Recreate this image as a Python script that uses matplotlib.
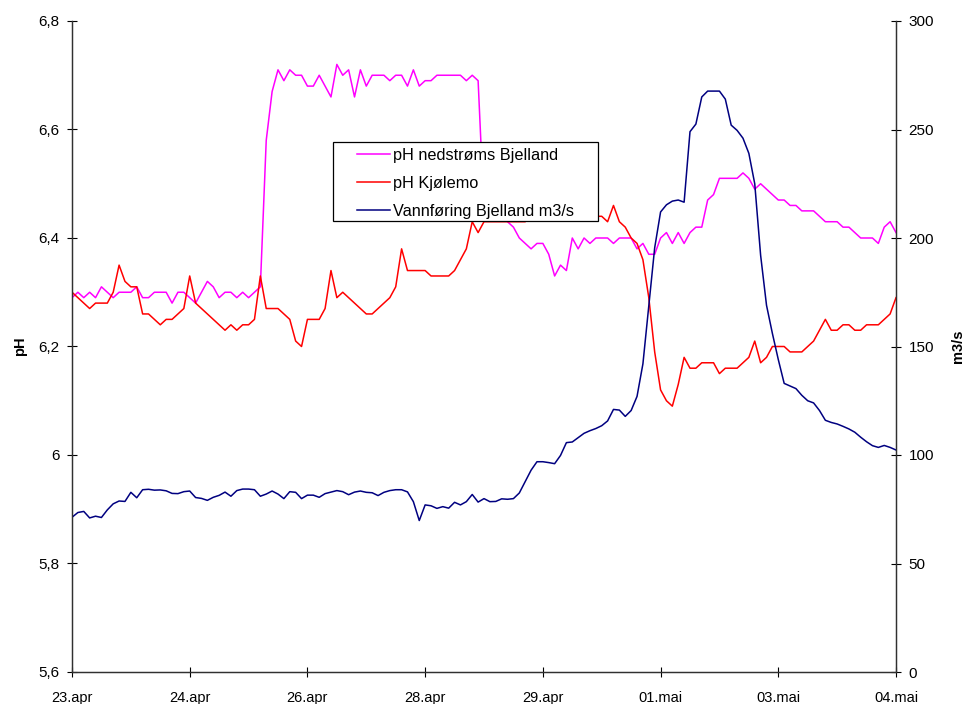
import matplotlib
matplotlib.use("Agg")
import matplotlib.pyplot as plt
from matplotlib.patches import Rectangle
import numpy as np

plt.rcParams["font.family"] = ["Liberation Sans", "DejaVu Sans"]

# tick labels on the category axis (every 20th sample)
date_labels = ["23.apr", "24.apr", "26.apr", "28.apr", "29.apr", "01.mai", "03.mai", "04.mai"]

# pH nedstrøms Bjelland
ph_bjelland = [
    6.29, 6.30, 6.29, 6.30, 6.29, 6.31, 6.30, 6.29, 6.30, 6.30,
    6.30, 6.31, 6.29, 6.29, 6.30, 6.30, 6.30, 6.28, 6.30, 6.30,
    6.29, 6.28, 6.30, 6.32, 6.31, 6.29, 6.30, 6.30, 6.29, 6.30,
    6.29, 6.30, 6.31, 6.58, 6.67, 6.71, 6.69, 6.71, 6.70, 6.70,
    6.68, 6.68, 6.70, 6.68, 6.66, 6.72, 6.70, 6.71, 6.66, 6.71,
    6.68, 6.70, 6.70, 6.70, 6.69, 6.70, 6.70, 6.68, 6.71, 6.68,
    6.69, 6.69, 6.70, 6.70, 6.70, 6.70, 6.70, 6.69, 6.70, 6.69,
    6.45, 6.44, 6.44, 6.44, 6.43, 6.42, 6.40, 6.39, 6.38, 6.39,
    6.39, 6.37, 6.33, 6.35, 6.34, 6.40, 6.38, 6.40, 6.39, 6.40,
    6.40, 6.40, 6.39, 6.40, 6.40, 6.40, 6.38, 6.39, 6.37, 6.37,
    6.40, 6.41, 6.39, 6.41, 6.39, 6.41, 6.42, 6.42, 6.47, 6.48,
    6.51, 6.51, 6.51, 6.51, 6.52, 6.51, 6.49, 6.50, 6.49, 6.48,
    6.47, 6.47, 6.46, 6.46, 6.45, 6.45, 6.45, 6.44, 6.43, 6.43,
    6.43, 6.42, 6.42, 6.41, 6.40, 6.40, 6.40, 6.39, 6.42, 6.43,
    6.41,
]

# pH Kjølemo
ph_kjolemo = [
    6.30, 6.29, 6.28, 6.27, 6.28, 6.28, 6.28, 6.30, 6.35, 6.32,
    6.31, 6.31, 6.26, 6.26, 6.25, 6.24, 6.25, 6.25, 6.26, 6.27,
    6.33, 6.28, 6.27, 6.26, 6.25, 6.24, 6.23, 6.24, 6.23, 6.24,
    6.24, 6.25, 6.33, 6.27, 6.27, 6.27, 6.26, 6.25, 6.21, 6.20,
    6.25, 6.25, 6.25, 6.27, 6.34, 6.29, 6.30, 6.29, 6.28, 6.27,
    6.26, 6.26, 6.27, 6.28, 6.29, 6.31, 6.38, 6.34, 6.34, 6.34,
    6.34, 6.33, 6.33, 6.33, 6.33, 6.34, 6.36, 6.38, 6.43, 6.41,
    6.43, 6.43, 6.43, 6.43, 6.43, 6.43, 6.43, 6.43, 6.44, 6.44,
    6.44, 6.44, 6.44, 6.44, 6.44, 6.44, 6.44, 6.44, 6.44, 6.44,
    6.44, 6.43, 6.46, 6.43, 6.42, 6.40, 6.39, 6.36, 6.29, 6.19,
    6.12, 6.10, 6.09, 6.13, 6.18, 6.16, 6.16, 6.17, 6.17, 6.17,
    6.15, 6.16, 6.16, 6.16, 6.17, 6.18, 6.21, 6.17, 6.18, 6.20,
    6.20, 6.20, 6.19, 6.19, 6.19, 6.20, 6.21, 6.23, 6.25, 6.23,
    6.23, 6.24, 6.24, 6.23, 6.23, 6.24, 6.24, 6.24, 6.25, 6.26,
    6.29,
]

# Vannføring Bjelland m3/s
flow_bjelland = [
    71.3, 73.5, 74.0, 71.0, 71.8, 71.2, 74.7, 77.5, 78.8, 78.6,
    82.8, 80.3, 84.0, 84.2, 83.8, 83.9, 83.5, 82.3, 82.2, 83.1,
    83.4, 80.4, 80.0, 79.1, 80.5, 81.4, 82.9, 81.0, 83.6, 84.3,
    84.3, 84.0, 81.0, 82.0, 83.4, 82.0, 79.9, 83.1, 82.8, 79.9,
    81.5, 81.5, 80.5, 82.2, 82.9, 83.6, 83.1, 81.7, 82.9, 83.4,
    82.8, 82.6, 81.3, 82.8, 83.6, 84.0, 84.0, 83.0, 78.5, 69.8,
    77.0, 76.6, 75.4, 76.2, 75.5, 78.2, 77.0, 78.5, 81.8, 78.3,
    79.9, 78.5, 78.6, 79.8, 79.6, 79.9, 82.5, 87.8, 93.0, 96.9,
    96.9, 96.5, 96.0, 99.8, 105.7, 106.0, 108.0, 110.0, 111.2, 112.2,
    113.5, 115.7, 121.0, 120.7, 117.8, 120.5, 127.0, 142.0, 169.0, 195.5,
    212.0, 215.3, 217.0, 217.5, 216.5, 249.0, 252.5, 265.0, 267.7, 267.7,
    267.7, 264.0, 252.0, 249.6, 246.0, 239.0, 225.0, 192.0, 169.0, 156.0,
    144.0, 133.0, 131.8, 130.6, 127.5, 125.0, 124.0, 120.5, 116.0, 115.0,
    114.3, 113.2, 112.0, 110.5, 108.2, 106.1, 104.3, 103.5, 104.4, 103.5,
    102.3,
]

x = np.arange(len(ph_bjelland))

W, H = 963, 704
fig = plt.figure(figsize=(W / 100, H / 100), dpi=100)
ax = fig.add_axes([72 / W, 1 - 672 / H, 824 / W, 651 / H])
ax2 = ax.twinx()

l1, = ax.plot(x, ph_bjelland, color="#FF00FF", lw=1.1, label="pH nedstrøms Bjelland")
l2, = ax.plot(x, ph_kjolemo, color="#FF0000", lw=1.1, label="pH Kjølemo")
l3, = ax2.plot(x, flow_bjelland, color="#000080", lw=1.1, label="Vannføring Bjelland m3/s")

ax.set_xlim(0, len(x) - 1)
ax.set_ylim(5.6, 6.8)
ax2.set_ylim(0, 300)

ph_ticks = [5.6, 5.8, 6.0, 6.2, 6.4, 6.6, 6.8]
ax.set_yticks(ph_ticks)
ax.set_yticklabels([f"{v:g}".replace(".", ",") for v in ph_ticks])
ax2.set_yticks(range(0, 301, 50))
ax.set_xticks(x[::20])
ax.set_xticklabels(date_labels)

for a in (ax, ax2):
    a.tick_params(direction="inout", length=7, width=0.8, labelsize=11, pad=5.5)
    a.spines["top"].set_visible(False)
    for s in a.spines.values():
        s.set_color("#303030")
        s.set_linewidth(0.9)
ax.tick_params(axis="x", labelsize=10.5, pad=10)

ax.set_ylabel("pH", fontsize=10.5, fontweight="bold", labelpad=8)
ax2.set_ylabel("m3/s", fontsize=10.5, fontweight="bold", labelpad=12)

# legend box (Excel style: opaque, square, wider on the right)
fig.patches.append(Rectangle((333 / W, 1 - 221 / H), 265 / W, 79 / H, transform=fig.transFigure,
                             facecolor="white", edgecolor="black", lw=0.9, zorder=1))
fig.legend(handles=[l1, l2, l3], loc="upper left", bbox_to_anchor=(357 / W, 1 - 148 / H),
           borderaxespad=0, borderpad=0, fontsize=11.7, frameon=False,
           handlelength=2.0, handletextpad=0.2, labelspacing=0.8)

fig.savefig("out.png", dpi=100)
